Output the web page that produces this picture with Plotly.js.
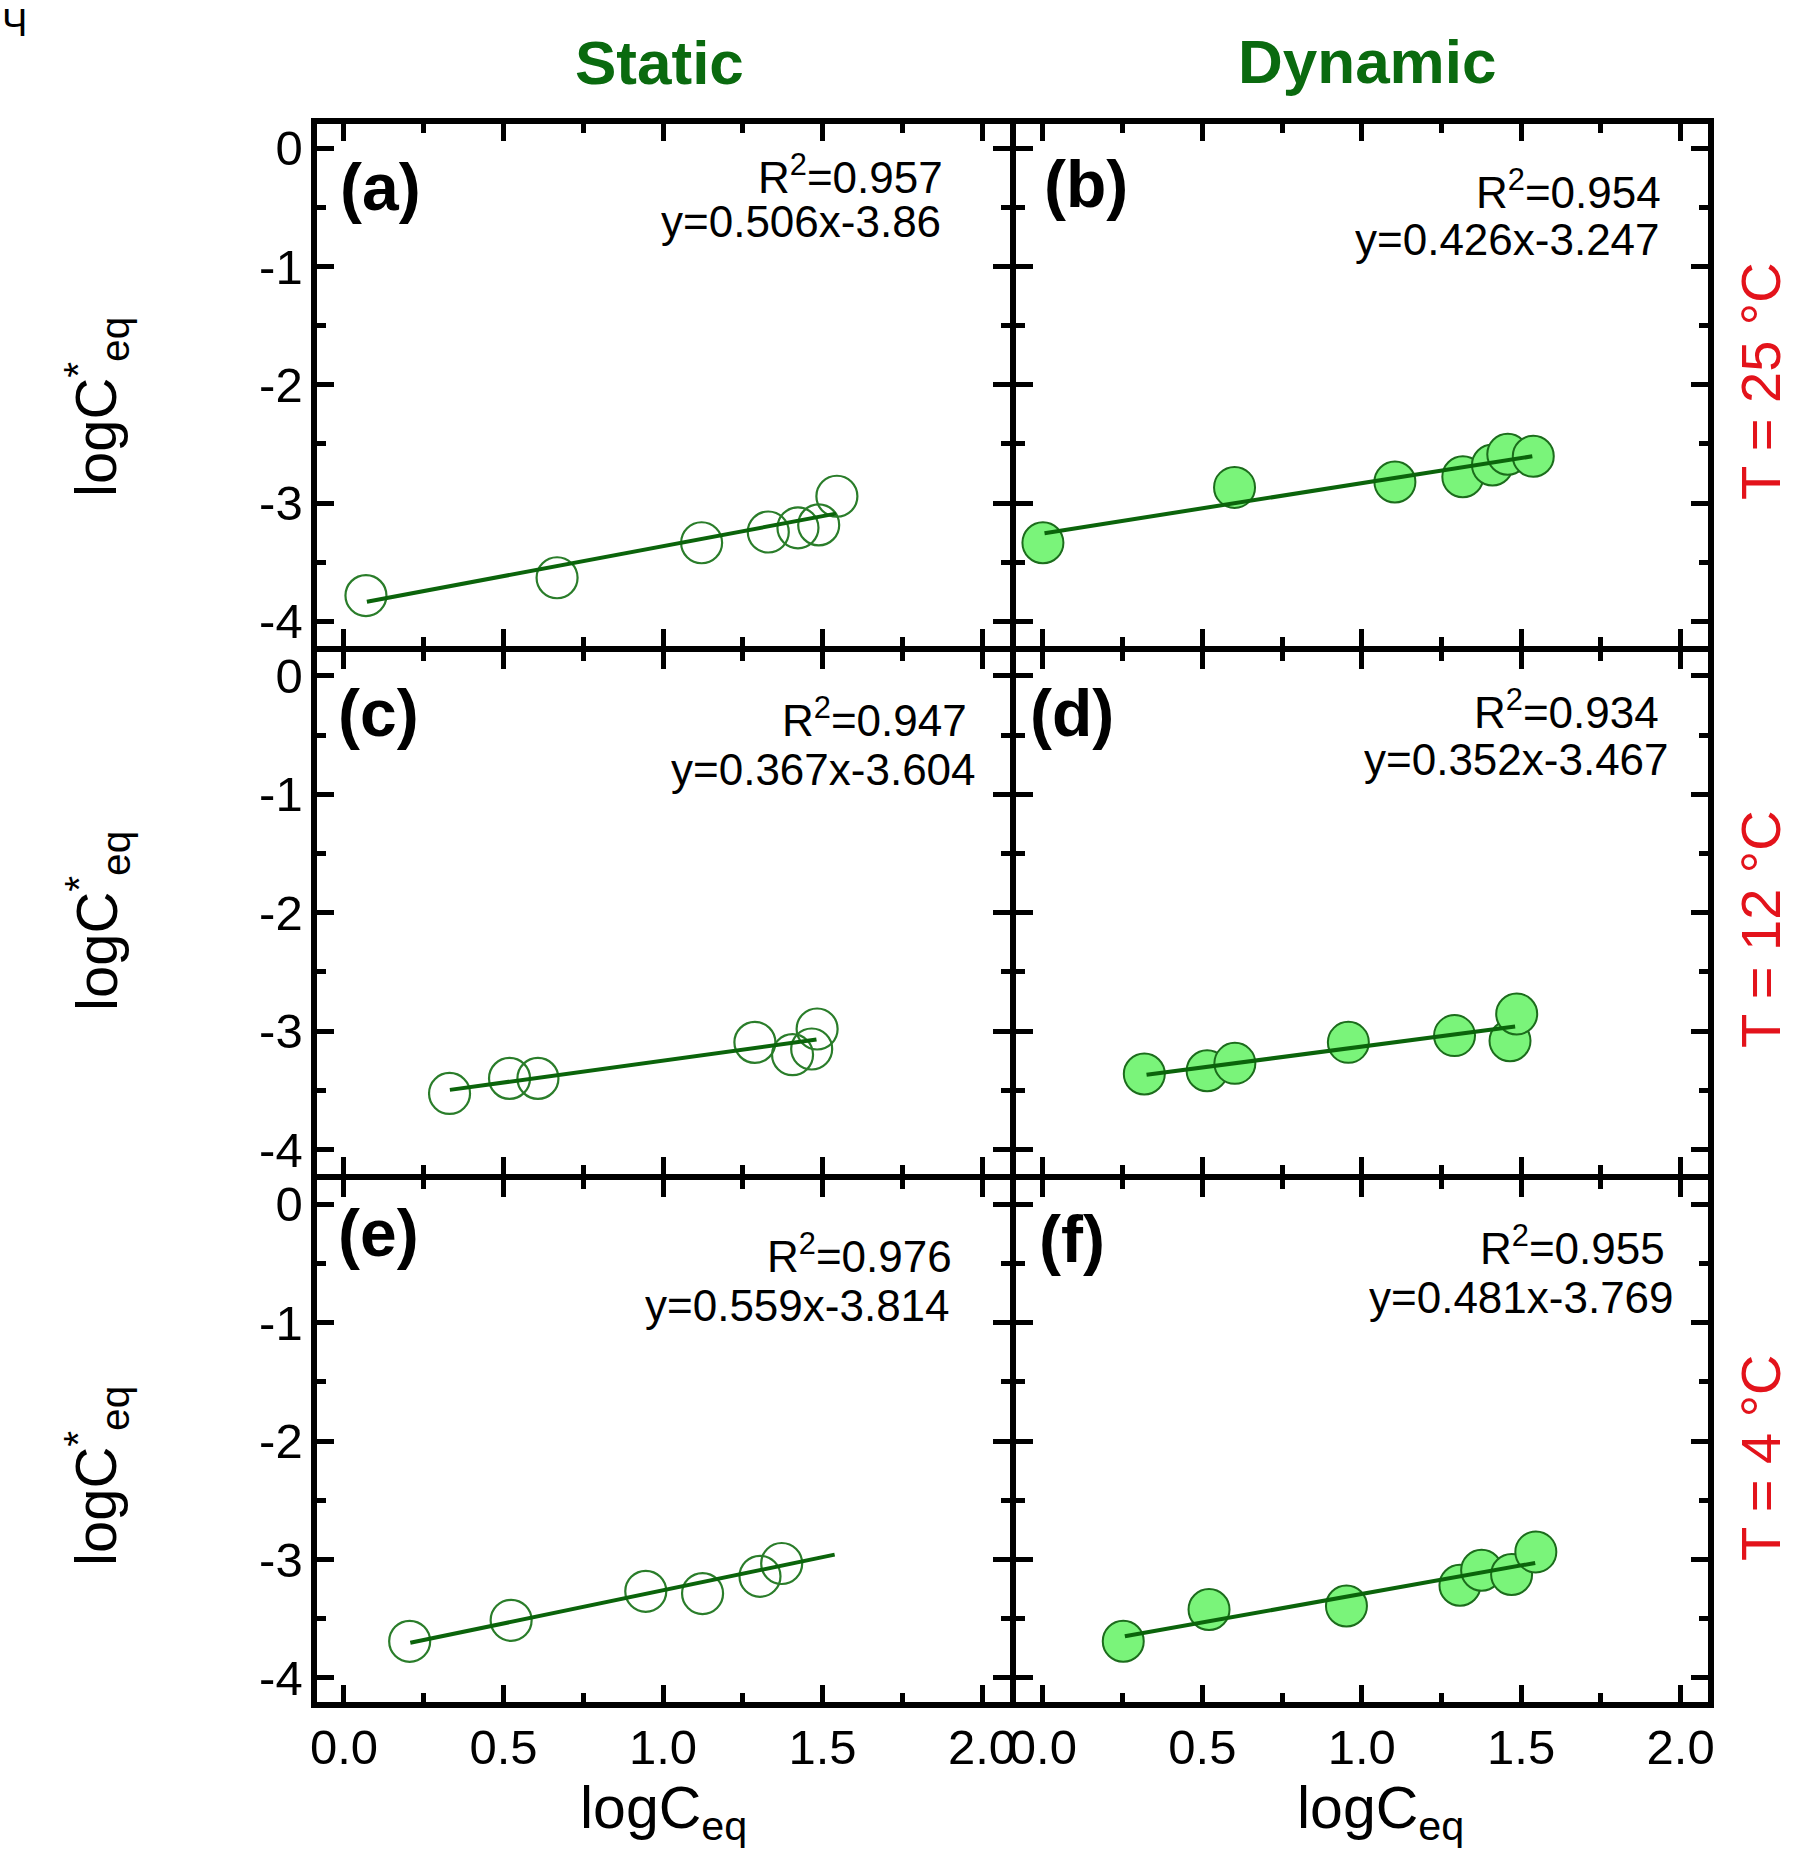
<!DOCTYPE html>
<html>
<head>
<meta charset="utf-8">
<script src="https://cdn.plot.ly/plotly-3.0.1.min.js"></script>
<style>html,body{margin:0;padding:0;background:#fff;}#chart{width:1796px;height:1852px;}</style>
</head>
<body>
<div id="chart"></div>
<script>
// ---- data ----
const panelLabels = ["(a)", "(b)", "(c)", "(d)", "(e)", "(f)"];
const r2Texts = ["0.957", "0.954", "0.947", "0.934", "0.976", "0.955"];
const eqTexts = ["y=0.506x-3.86", "y=0.426x-3.247", "y=0.367x-3.604", "y=0.352x-3.467", "y=0.559x-3.814", "y=0.481x-3.769"];
const columnTitles = ["Static", "Dynamic"];
const rowTitles = ["T = 25 °C", "T = 12 °C", "T = 4 °C"];

// (a) static, 25 °C
const xA = [0.069, 0.668, 1.121, 1.330, 1.423, 1.488, 1.545];
const yA = [-3.783, -3.632, -3.336, -3.245, -3.210, -3.185, -2.943];
const fitXA = [0.072, 1.542];
const fitYA = [-3.835, -3.090];
// (b) dynamic, 25 °C
const xB = [0.000, 0.601, 1.104, 1.317, 1.410, 1.458, 1.538];
const yB = [-3.336, -2.868, -2.822, -2.778, -2.678, -2.588, -2.605];
const fitXB = [0.005, 1.535];
const fitYB = [-3.255, -2.605];
// (c) static, 12 °C
const xC = [0.331, 0.519, 0.608, 1.288, 1.406, 1.466, 1.483];
const yC = [-3.525, -3.398, -3.398, -3.094, -3.198, -3.150, -2.981];
const fitXC = [0.332, 1.481];
const fitYC = [-3.495, -3.070];
// (d) dynamic, 12 °C
const xD = [0.318, 0.515, 0.602, 0.958, 1.291, 1.465, 1.486];
const yD = [-3.361, -3.333, -3.271, -3.094, -3.037, -3.080, -2.854];
const fitXD = [0.325, 1.481];
const fitYD = [-3.368, -2.960];
// (e) static, 4 °C
const xE = [0.206, 0.524, 0.946, 1.124, 1.304, 1.372];
const yE = [-3.692, -3.515, -3.270, -3.289, -3.143, -3.035];
const fitXE = [0.208, 1.538];
const fitYE = [-3.705, -2.960];
// (f) dynamic, 4 °C
const xF = [0.252, 0.521, 0.952, 1.308, 1.376, 1.470, 1.546];
const yF = [-3.692, -3.424, -3.394, -3.219, -3.092, -3.128, -2.937];
const fitXF = [0.257, 1.544];
const fitYF = [-3.650, -3.030];

// tick labels
const xTickVals = [0, 0.5, 1, 1.5, 2];
const xTickText = ["0.0", "0.5", "1.0", "1.5", "2.0"];
const xMinorVals = [0.25, 0.75, 1.25, 1.75];
const yTickVals = [0, -1, -2, -3, -4];
const yTickText = ["0", "-1", "-2", "-3", "-4"];
const yMinorVals = [-0.5, -1.5, -2.5, -3.5];

// ---- layout helpers ----
const W = 1796, H = 1852;
const px = v => v / W;
const py = v => 1 - v / H;
// plot-area edges in pixels (axis lines of 6px sit just outside them)
const colDomains = [[316.5, 1009.5], [1015.5, 1708]];
const rowDomains = [[124, 645.5], [651.5, 1174], [1180, 1702]];
const FONT = '"Liberation Sans", Arial, Helvetica, sans-serif';
const DARKGREEN = '#0a6a0f';
const RED = '#e3131b';

const panels = [
  {x: xA, y: yA, fx: fitXA, fy: fitYA, filled: false},
  {x: xB, y: yB, fx: fitXB, fy: fitYB, filled: true},
  {x: xC, y: yC, fx: fitXC, fy: fitYC, filled: false},
  {x: xD, y: yD, fx: fitXD, fy: fitYD, filled: true},
  {x: xE, y: yE, fx: fitXE, fy: fitYE, filled: false},
  {x: xF, y: yF, fx: fitXF, fy: fitYF, filled: true}
];

const traces = [];
const layout = {
  width: W, height: H,
  margin: {l: 0, r: 0, t: 0, b: 0},
  paper_bgcolor: 'white', plot_bgcolor: 'white',
  showlegend: false,
  font: {family: FONT, color: 'black', size: 49},
  annotations: []
};

panels.forEach((p, i) => {
  const row = Math.floor(i / 2), col = i % 2;
  const n = i + 1;
  const xa = n === 1 ? 'x' : 'x' + n;
  const ya = n === 1 ? 'y' : 'y' + n;
  const mk = p.filled
    ? {symbol: 'circle', size: 41, color: '#7af47a', line: {color: '#1c6c1c', width: 2}}
    : {symbol: 'circle-open', size: 41, color: '#2a7d2a', line: {width: 2.2}};
  traces.push({x: p.x, y: p.y, xaxis: xa, yaxis: ya, type: 'scatter', mode: 'markers', marker: mk, hoverinfo: 'x+y'});
  traces.push({x: p.fx, y: p.fy, xaxis: xa, yaxis: ya, type: 'scatter', mode: 'lines', line: {color: '#0b640b', width: 4}, hoverinfo: 'skip'});

  const common = {
    showline: true, linecolor: 'black', linewidth: 6, mirror: 'allticks',
    ticks: 'inside', ticklen: 17, tickwidth: 5, tickcolor: 'black',
    showgrid: false, zeroline: false, fixedrange: true,
    tickfont: {family: FONT, size: 49, color: 'black'}
  };
  layout['xaxis' + (n === 1 ? '' : n)] = Object.assign({}, common, {
    domain: [px(colDomains[col][0]), px(colDomains[col][1])],
    anchor: ya, range: [-0.086, 2.086],
    tickmode: 'array', tickvals: xTickVals, ticktext: xTickText,
    minor: {tickmode: 'array', tickvals: xMinorVals, ticks: 'inside', ticklen: 9, tickwidth: 5, tickcolor: 'black', showgrid: false},
    showticklabels: row === 2, ticklabelstandoff: -3
  });
  layout['yaxis' + (n === 1 ? '' : n)] = Object.assign({}, common, {
    domain: [py(rowDomains[row][1]), py(rowDomains[row][0])],
    anchor: xa, range: [-4.205, 0.205],
    tickmode: 'array', tickvals: yTickVals, ticktext: yTickText,
    minor: {tickmode: 'array', tickvals: yMinorVals, ticks: 'inside', ticklen: 9, tickwidth: 5, tickcolor: 'black', showgrid: false},
    showticklabels: col === 0, ticklabelstandoff: -2
  });
});

// annotation positions (pixels)
const labelPos = [[380, 187], [1086, 184], [378, 713], [1072, 713], [378, 1233], [1072, 1239]];
// right edge and text baseline of the R² line and the equation line
const r2Pos = [[945, 193], [1663, 208], [969, 736], [1661, 728], [954, 1272], [1667, 1264]];
const eqPos = [[943, 237], [1662, 255], [978, 784], [1671, 775], [952, 1320], [1676, 1312]];
const TXT = 44;

const A = layout.annotations;
for (let i = 0; i < 6; i++) {
  A.push({xref: 'paper', yref: 'paper', x: px(labelPos[i][0]), y: py(labelPos[i][1]), text: '<b>' + panelLabels[i] + '</b>',
    showarrow: false, xanchor: 'center', yanchor: 'middle', font: {family: FONT, size: 66, color: 'black'}});
  A.push({xref: 'paper', yref: 'paper', x: px(r2Pos[i][0]), y: py(r2Pos[i][1] - 48), text: 'R<sup>2</sup>=' + r2Texts[i],
    showarrow: false, xanchor: 'right', yanchor: 'top', valign: 'top', height: 48,
    font: {family: FONT, size: TXT, color: 'black'}});
  A.push({xref: 'paper', yref: 'paper', x: px(eqPos[i][0]), y: py(eqPos[i][1] + 11.5), text: eqTexts[i],
    showarrow: false, xanchor: 'right', yanchor: 'bottom', valign: 'bottom', height: 42,
    font: {family: FONT, size: TXT, color: 'black'}});
}
// column titles
[[659, 62], [1367, 61]].forEach((p, j) => {
  A.push({xref: 'paper', yref: 'paper', x: px(p[0]), y: py(p[1]), text: '<b>' + columnTitles[j] + '</b>',
    showarrow: false, xanchor: 'center', yanchor: 'middle', font: {family: FONT, size: 62, color: DARKGREEN}});
});
// row labels (temperature)
[[1760, 381], [1760, 929], [1760, 1458]].forEach((p, j) => {
  A.push({xref: 'paper', yref: 'paper', x: px(p[0]), y: py(p[1]), text: rowTitles[j], textangle: -90,
    showarrow: false, xanchor: 'center', yanchor: 'middle', valign: 'middle', height: 46,
    font: {family: FONT, size: 56, color: RED}});
});
// y axis titles
[[96, 407], [98, 921], [96, 1476]].forEach(p => {
  A.push({xref: 'paper', yref: 'paper', x: px(p[0]), y: py(p[1]), text: 'logC<sup>*</sup><sub>eq</sub>', textangle: -90,
    showarrow: false, xanchor: 'center', yanchor: 'middle', font: {family: FONT, size: 58, color: 'black'}});
});
// x axis titles
[[663, 1773], [1380, 1773]].forEach(p => {
  A.push({xref: 'paper', yref: 'paper', x: px(p[0]), y: py(p[1]), text: 'logC<sub>eq</sub>',
    showarrow: false, xanchor: 'center', yanchor: 'top', font: {family: FONT, size: 59, color: 'black'}});
});
// stray glyph at the top-left corner of the picture
A.push({xref: 'paper', yref: 'paper', x: px(0), y: py(0), text: 'Ч', showarrow: false,
  xanchor: 'left', yanchor: 'top', font: {family: FONT, size: 38, color: 'black'}});

Plotly.newPlot('chart', traces, layout, {staticPlot: true, displayModeBar: false});
</script>
</body>
</html>
